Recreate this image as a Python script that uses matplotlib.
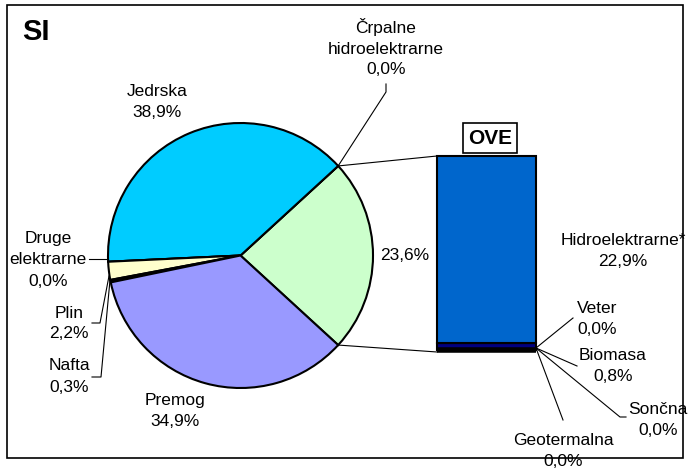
import numpy as np
import matplotlib
matplotlib.use("Agg")
import matplotlib.pyplot as plt
from matplotlib.patches import Rectangle

# ---- data ----
pie_labels = ["OVE", "Črpalne\nhidroelektrarne", "Jedrska", "Druge\nelektrarne", "Plin", "Nafta", "Premog"]
pie_values = [23.6, 0.0, 38.9, 0.0, 2.2, 0.3, 34.9]
pie_pct = ["23,6%", "0,0%", "38,9%", "0,0%", "2,2%", "0,3%", "34,9%"]
pie_colors = ["#CCFFCC", "#FFFFFF", "#00CCFF", "#FFFFFF", "#FFFFCC", "#000000", "#9999FF"]

bar_labels = ["Geotermalna", "Sončna", "Biomasa", "Veter", "Hidroelektrarne*"]
bar_values = [0.0, 0.0, 0.8, 0.0, 22.9]
bar_pct = ["0,0%", "0,0%", "0,8%", "0,0%", "22,9%"]
bar_colors = ["#000000", "#000000", "#000080", "#000000", "#0066CC"]

W, H = 688, 468
FONT = "Liberation Sans"
FS = 12.5
LS = 1.5

fig = plt.figure(figsize=(W / 100, H / 100), dpi=100)
ax = fig.add_axes([0, 0, 1, 1])

def Y(y):
    return H - y

cx, cy, r = 240.5, 255.5, 132.5
total = sum(pie_values)
start = -pie_values[0] / total * 360 / 2
ax.pie(pie_values, colors=pie_colors, startangle=start, counterclock=True,
       center=(cx, Y(cy)), radius=r,
       wedgeprops=dict(edgecolor="black", linewidth=1.5))
ax.set_xlim(0, W)
ax.set_ylim(0, H)
ax.set_aspect("auto")
ax.axis("off")

# bar of pie
bx0, bx1, by0, by1 = 437, 536, 156, 350
bax = fig.add_axes([bx0 / W, (H - by1) / H, (bx1 - bx0) / W, (by1 - by0) / H])
bottom = 0.0
for v, c in zip(bar_values, bar_colors):
    bax.bar(0, v, bottom=bottom, width=1.0, color=c, edgecolor="black",
            linewidth=1.5, clip_on=False)
    bottom += v
bax.set_xlim(-0.5, 0.5)
bax.set_ylim(0, sum(bar_values))
bax.axis("off")
# thick bottom edge (zero-valued segments)
bax.plot([-0.5, 0.5], [0, 0], color="black", linewidth=4, clip_on=False,
         solid_capstyle="butt")

# connector lines from pie to bar
a = np.deg2rad(pie_values[0] / total * 360 / 2)
p_top = (cx + r * np.cos(a), Y(cy) + r * np.sin(a))
p_bot = (cx + r * np.cos(-a), Y(cy) + r * np.sin(-a))
ax.plot([p_top[0], bx0], [p_top[1], Y(by0)], color="black", lw=0.8)
ax.plot([p_bot[0], bx0], [p_bot[1], Y(by1 + 2)], color="black", lw=0.8)

def txt(x, y, s, **kw):
    d = dict(ha="center", va="center", fontsize=FS, family=FONT, linespacing=LS)
    d.update(kw)
    ax.text(x, Y(y), s, **d)

def line(pts):
    xs = [p[0] for p in pts]
    ys = [Y(p[1]) for p in pts]
    ax.plot(xs, ys, color="black", lw=0.8)

# pie labels
txt(386, 47.5, pie_labels[1] + "\n" + pie_pct[1])
line([(386, 84), (386, 92), (p_top[0], Y(p_top[1]))])
txt(157, 102, pie_labels[2] + "\n" + pie_pct[2])
txt(405, 255, pie_pct[0])
txt(48, 260, pie_labels[3] + "\n" + pie_pct[3])
line([(89, 259), (108, 259)])
txt(69, 323.5, pie_labels[4] + "\n" + pie_pct[4])
line([(92, 323), (100, 323), (109, 276)])
txt(69, 376.5, pie_labels[5] + "\n" + pie_pct[5])
line([(92, 377), (101, 377), (110, 280)])
txt(175, 411.5, pie_labels[6] + "\n" + pie_pct[6])

# OVE box
ax.text(490, Y(138), "OVE", ha="center", va="center", fontsize=15, family=FONT,
        fontweight="bold",
        bbox=dict(boxstyle="square,pad=0.25", facecolor="white", edgecolor="black", lw=1.2))

# bar labels
corner = (bx1, by1 - 2)
txt(623, 251, bar_labels[4] + "\n" + bar_pct[4])
txt(597, 319, bar_labels[3] + "\n" + bar_pct[3])
line([(573, 318), corner])
txt(613, 366, bar_labels[2] + "\n" + bar_pct[2])
line([corner, (577, 366)])
txt(658, 420, bar_labels[1] + "\n" + bar_pct[1])
line([corner, (620, 417), (626, 417)])
txt(563, 451, bar_labels[0] + "\n" + bar_pct[0])
line([corner, (563, 420)])

# title
ax.text(22, Y(32), "SI", ha="left", va="center", fontsize=21, family=FONT, fontweight="bold")

# border
ax.add_patch(Rectangle((7, Y(458)), 676, 453, fill=False, edgecolor="black", lw=1.2, zorder=5))

fig.savefig("out.png", dpi=100)
